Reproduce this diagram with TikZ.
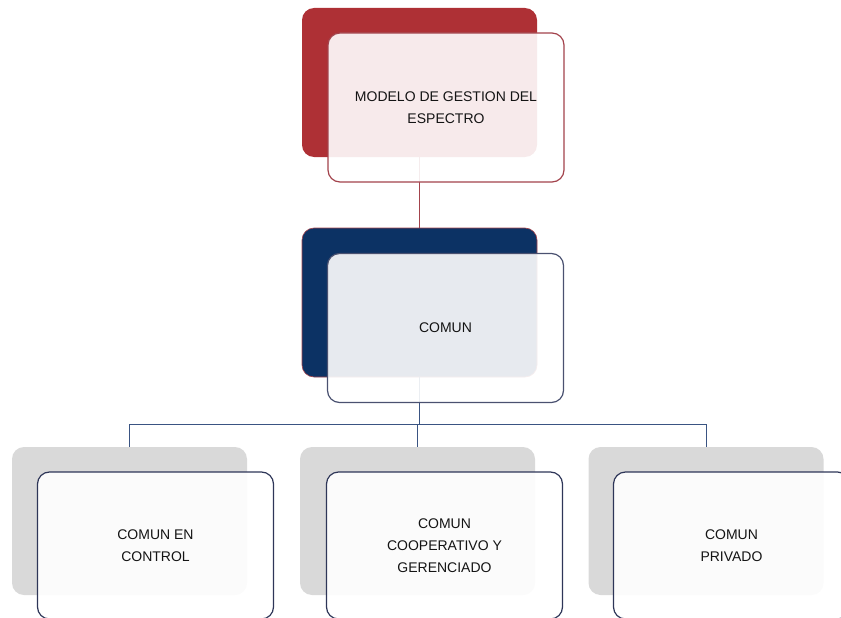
\documentclass[tikz,border=0pt]{standalone}
\usepackage{fontspec}
\setmainfont{Liberation Sans}
\definecolor{redback}{HTML}{AE3035}
\definecolor{redline}{HTML}{A3434C}
\definecolor{navyback}{HTML}{0C3264}
\definecolor{navyedge}{HTML}{4A5170}
\definecolor{botedge}{HTML}{2E3658}
\definecolor{conn}{HTML}{3A5482}
\definecolor{grayback}{HTML}{D9D9D9}
\definecolor{txt}{HTML}{141414}
\tikzset{
  backbox/.style={rectangle, rounded corners=12pt, minimum width=235pt, minimum height=149pt, inner sep=0pt},
  frontbox/.style={rectangle, rounded corners=12pt, minimum width=236pt, minimum height=149pt, inner sep=0pt,
     fill=white, fill opacity=0.9, text opacity=1, line width=1.2pt, align=center,
     font=\fontsize{14}{22}\selectfont, text=txt},
  connline/.style={line width=1pt, draw=conn},
}
\begin{document}
\begin{tikzpicture}[x=1pt,y=-1pt]
\useasboundingbox (0,0) rectangle (841,618);
\clip (0,0) rectangle (841,618);
% back boxes
\node[backbox, fill=redback] (topback) at (419.5,82.5) {};
\node[backbox, fill=navyback, draw=redline, line width=0.6pt] (midback) at (419.5,302.5) {};
\node[backbox, fill=grayback, minimum height=148pt] (leftback) at (129.5,521) {};
\node[backbox, fill=grayback, minimum height=148pt] (centback) at (417.5,521) {};
\node[backbox, fill=grayback, minimum height=148pt] (rightback) at (706,521) {};
% connectors
\coordinate (bus) at (0,424);
\draw[line width=1pt, draw=redline] (topback.south) -- (midback.north);
\draw[connline] (midback.south) -- (midback.south |- bus);
\draw[connline] (leftback.north |- bus) -- (rightback.north |- bus);
\draw[connline] (leftback.north |- bus) -- (leftback.north);
\draw[connline] (centback.north |- bus) -- (centback.north);
\draw[connline] (rightback.north |- bus) -- (rightback.north);
% front boxes
\node[frontbox, draw=redline] (topfront) at (446,107.5) {MODELO DE GESTION DEL\\ESPECTRO};
\node[frontbox, draw=navyedge] (midfront) at (445.5,328) {COMUN};
\node[frontbox, draw=botedge, minimum height=147pt] (leftfront) at (155.5,545.5) {COMUN EN\\CONTROL};
\node[frontbox, draw=botedge, minimum height=147pt] (centfront) at (444.5,545.5) {COMUN\\COOPERATIVO Y\\GERENCIADO};
\node[frontbox, draw=botedge, minimum height=147pt] (rightfront) at (731.5,545.5) {COMUN\\PRIVADO};
\end{tikzpicture}
\end{document}
